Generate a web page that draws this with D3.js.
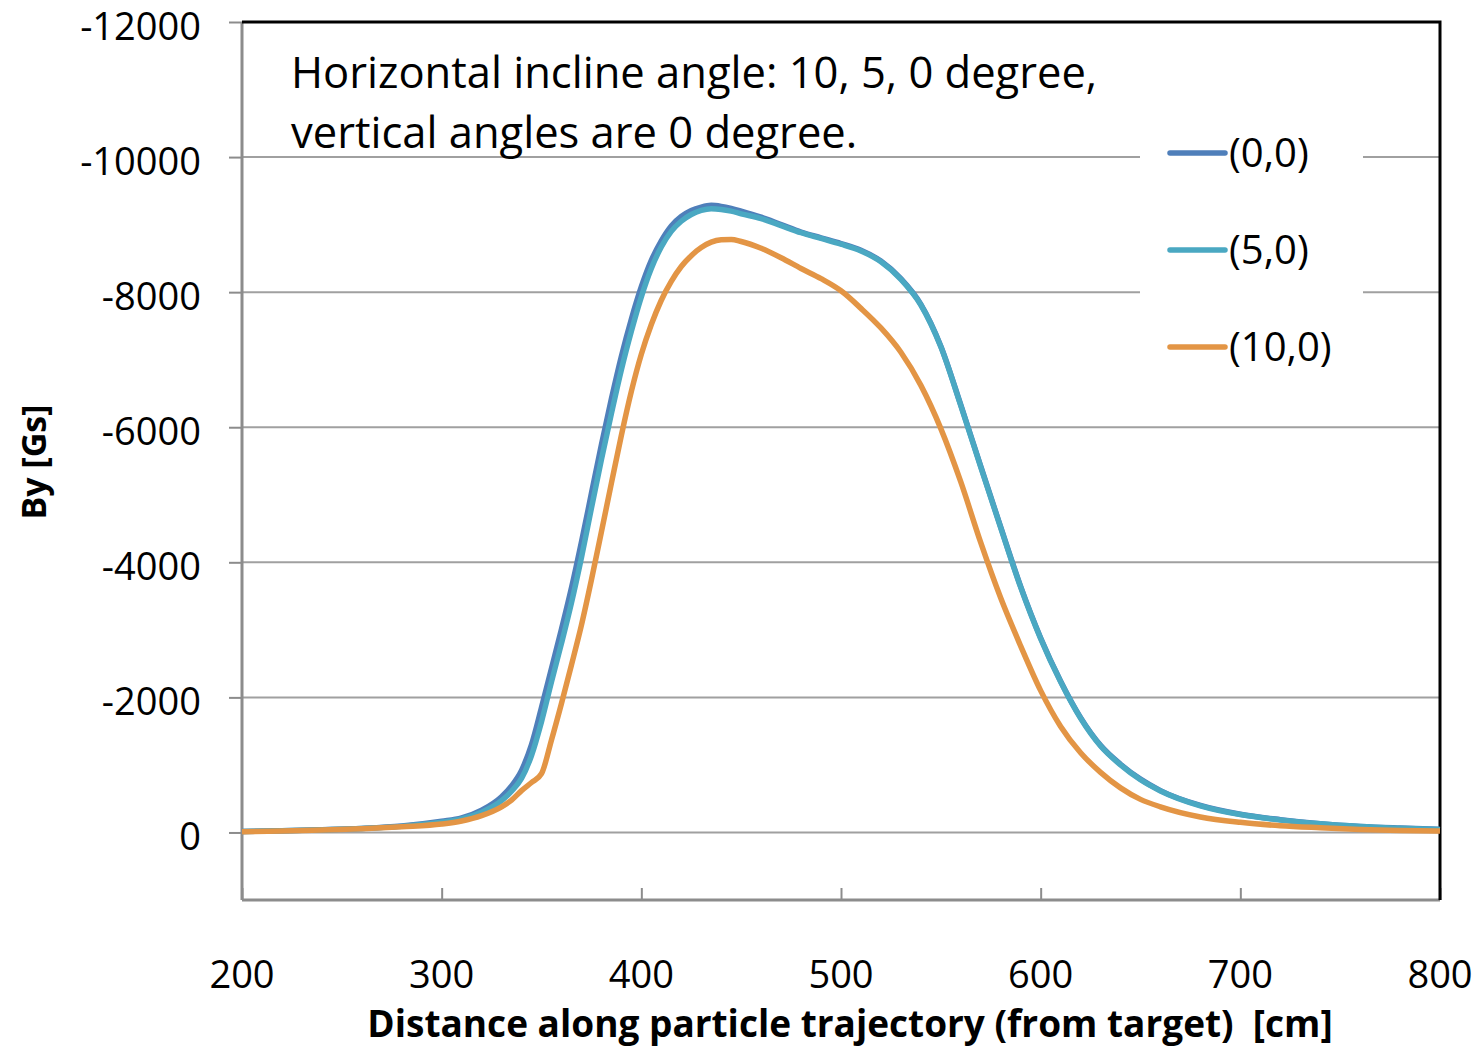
<!DOCTYPE html>
<html>
<head>
<meta charset="utf-8">
<script src="https://cdn.jsdelivr.net/npm/d3@7"></script>
<style>
  body { margin: 0; background: #fff; }
  svg { display: block; }
</style>
</head>
<body>
<svg width="1479" height="1049"></svg>
<script>
// distance along trajectory [cm]
const distance = [200, 220, 240, 260, 280, 300, 310, 320, 330, 335, 340, 345, 350, 355, 360, 365, 370, 375, 380, 385, 390, 395, 400, 405, 410, 415, 420, 425, 430, 435, 440, 445, 450, 460, 470, 480, 490, 500, 510, 520, 530, 540, 550, 560, 570, 580, 590, 600, 610, 620, 630, 640, 650, 660, 680, 700, 720, 740, 760, 780, 800];

// By [Gs] for each (horizontal, vertical) incline
const by00 = [-15, -25, -40, -60, -95, -165, -215, -330, -530, -690, -920, -1300, -1850, -2430, -3010, -3620, -4300, -5020, -5740, -6420, -7050, -7600, -8080, -8470, -8760, -8980, -9120, -9210, -9260, -9285, -9270, -9240, -9200, -9110, -9000, -8890, -8805, -8720, -8620, -8460, -8200, -7820, -7200, -6330, -5420, -4520, -3640, -2880, -2240, -1700, -1290, -1010, -790, -620, -400, -270, -190, -130, -90, -65, -45];
const by50 = [-15, -25, -40, -58, -90, -150, -200, -300, -470, -610, -800, -1140, -1640, -2230, -2800, -3400, -4070, -4800, -5520, -6200, -6850, -7420, -7930, -8350, -8670, -8900, -9050, -9150, -9210, -9235, -9225, -9200, -9160, -9090, -8985, -8880, -8795, -8710, -8610, -8450, -8190, -7810, -7190, -6320, -5410, -4510, -3630, -2870, -2230, -1690, -1280, -1000, -780, -615, -395, -265, -185, -128, -88, -62, -42];
const by100 = [-10, -20, -35, -55, -85, -125, -170, -250, -380, -480, -620, -740, -870, -1370, -1910, -2480, -3070, -3740, -4450, -5170, -5880, -6530, -7080, -7520, -7880, -8160, -8380, -8540, -8660, -8740, -8775, -8780, -8750, -8650, -8510, -8350, -8200, -8020, -7760, -7470, -7110, -6620, -5980, -5190, -4290, -3470, -2760, -2100, -1570, -1180, -890, -660, -490, -380, -230, -150, -100, -70, -45, -30, -20];

const seriesNames = ['(0,0)', '(5,0)', '(10,0)'];
const seriesColors = ['#4F7FBA', '#4AA8C2', '#E39545'];

const xTicks = [200, 300, 400, 500, 600, 700, 800];
const yTicks = [-12000, -10000, -8000, -6000, -4000, -2000, 0];

const noteLines = ['Horizontal incline angle: 10, 5, 0 degree,', 'vertical angles are 0 degree.'];

const series = [by00, by50, by100].map((vals, i) => ({
    name: seriesNames[i],
    color: seriesColors[i],
    points: distance.map((d, j) => ({x: d, y: vals[j]}))
}));

const margin = {top: 22, right: 39, bottom: 149, left: 242};
const width = 1479 - margin.left - margin.right;
const height = 1049 - margin.top - margin.bottom;
const font = "'Open Sans', 'Noto Sans', sans-serif";

const svg = d3.select('svg');
const chart = svg.append('g')
    .attr('transform', `translate(${margin.left}, ${margin.top})`);

const xScale = d3.scaleLinear()
    .domain([200, 800])
    .range([0, width]);

const yScale = d3.scaleLinear()
    .domain([-12000, 1000])
    .range([0, height]);

// grid
chart.append('g')
    .selectAll('line')
    .data(yTicks)
    .join('line')
    .attr('x1', 0)
    .attr('x2', width)
    .attr('y1', d => yScale(d))
    .attr('y2', d => yScale(d))
    .attr('stroke', '#A0A0A0')
    .attr('stroke-width', 2);

// y axis
const yAxis = chart.append('g')
    .call(d3.axisLeft(yScale).tickValues(yTicks).tickSize(13).tickPadding(28).tickFormat(d => d));
yAxis.select('.domain').remove();
yAxis.selectAll('.tick line')
    .attr('stroke', '#8C8C8C')
    .attr('stroke-width', 2);
yAxis.selectAll('.tick text')
    .attr('font-size', 38)
    .attr('font-family', font)
    .attr('fill', '#000')
    .attr('dy', '0.45em');

chart.append('line')
    .attr('x1', 0).attr('x2', 0)
    .attr('y1', 0).attr('y2', height)
    .attr('stroke', '#8C8C8C')
    .attr('stroke-width', 3);

// x axis
const xAxis = chart.append('g')
    .attr('transform', `translate(0, ${height})`)
    .call(d3.axisTop(xScale).tickValues(xTicks).tickSize(12));
xAxis.select('.domain').remove();
xAxis.selectAll('.tick line')
    .attr('stroke', '#8C8C8C')
    .attr('stroke-width', 2);
xAxis.selectAll('.tick text').remove();

chart.append('line')
    .attr('x1', 0).attr('x2', width)
    .attr('y1', height).attr('y2', height)
    .attr('stroke', '#8C8C8C')
    .attr('stroke-width', 3);

chart.append('g')
    .selectAll('text')
    .data(xTicks)
    .join('text')
    .attr('x', d => xScale(d))
    .attr('y', height + 88)
    .attr('text-anchor', 'middle')
    .attr('font-size', 38)
    .attr('font-family', font)
    .text(d => d);

// top / right border
chart.append('path')
    .attr('d', `M0,0H${width}V${height}`)
    .attr('fill', 'none')
    .attr('stroke', '#000')
    .attr('stroke-width', 3);

// curves, drawn in series order like the original
const line = d3.line()
    .x(d => xScale(d.x))
    .y(d => yScale(d.y))
    .curve(d3.curveMonotoneX);

chart.append('g')
    .selectAll('path')
    .data(series)
    .join('path')
    .attr('d', d => line(d.points))
    .attr('fill', 'none')
    .attr('stroke', d => d.color)
    .attr('stroke-width', 5.5)
    .attr('stroke-linejoin', 'round');

// note
chart.append('g')
    .selectAll('text')
    .data(noteLines)
    .join('text')
    .attr('x', 49)
    .attr('y', (d, i) => 66 + i * 60)
    .attr('font-size', 43.5)
    .attr('font-family', font)
    .text(d => d);

// legend
const legend = chart.append('g')
    .attr('transform', `translate(${1140 - margin.left}, ${130 - margin.top})`);
legend.append('rect')
    .attr('width', 223)
    .attr('height', 245)
    .attr('fill', '#fff');
const item = legend.selectAll('g')
    .data(series)
    .join('g')
    .attr('transform', (d, i) => `translate(0, ${23 + i * 97})`);
item.append('line')
    .attr('x1', 30).attr('x2', 85)
    .attr('stroke', d => d.color)
    .attr('stroke-width', 5.5)
    .attr('stroke-linecap', 'round');
item.append('text')
    .attr('x', 89)
    .attr('dy', '0.35em')
    .attr('font-size', 40)
    .attr('font-family', font)
    .text(d => d.name);

// axis titles
svg.append('text')
    .attr('x', 850)
    .attr('y', 1037)
    .attr('text-anchor', 'middle')
    .attr('font-size', 37)
    .attr('font-weight', 'bold')
    .attr('font-family', font)
    .attr('xml:space', 'preserve')
    .text('Distance along particle trajectory (from target)  [cm]');

svg.append('text')
    .attr('transform', 'translate(46, 462) rotate(-90)')
    .attr('text-anchor', 'middle')
    .attr('font-size', 34)
    .attr('font-weight', 'bold')
    .attr('font-family', font)
    .text('By [Gs]');
</script>
</body>
</html>
